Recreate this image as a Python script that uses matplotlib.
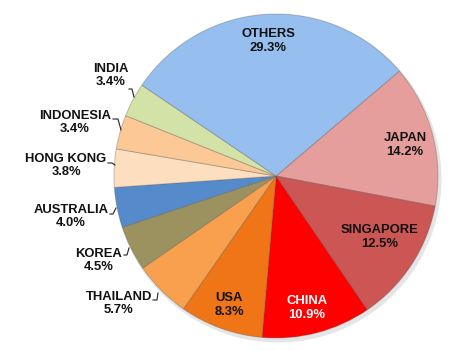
import matplotlib
matplotlib.use("Agg")
import matplotlib.pyplot as plt
import numpy as np

# ---- data ----
countries = ["JAPAN", "SINGAPORE", "CHINA", "USA", "THAILAND", "KOREA",
             "AUSTRALIA", "HONG KONG", "INDONESIA", "INDIA", "OTHERS"]
shares = [14.2, 12.5, 10.9, 8.3, 5.7, 4.5, 4.0, 3.8, 3.4, 3.4, 29.3]

# ---- style ----
colors = ["#E59E9C", "#CB5654", "#FE0000", "#F07516", "#F9A04E", "#9C925F",
          "#558ACB", "#FDDFBF", "#FCC996", "#D3E3A7", "#96BEEE"]
text_colors = ["#111111"] * len(countries)
text_colors[2] = "white"

W, H = 471, 350
cx, cy, R = 276, 350 - 176, 162
START = 40.4

# label centers in pixel coordinates (x, y from top)
label_pos = {
    "JAPAN": (405, 145), "SINGAPORE": (380, 237), "CHINA": (307, 308),
    "USA": (229, 305), "THAILAND": (119, 303.5), "KOREA": (99, 260.5),
    "AUSTRALIA": (71, 216.5), "HONG KONG": (66, 165.5), "INDONESIA": (75, 122.5),
    "INDIA": (111, 75.5), "OTHERS": (268, 41),
}
# leader lines: (hook start x, hook y, hook end x, edge point)  pixel coords
leaders = {
    "INDIA": (129, 89, 132, (134, 97)),
    "INDONESIA": (113, 119, 118, (121, 130)),
    "HONG KONG": (108, 163, 112, (115, 165)),
    "AUSTRALIA": (110, 214, 113, (116, 208)),
    "KOREA": (124, 255, 127, (129, 248)),
    "THAILAND": (153, 300, 157, (158, 293)),
}

plt.rcParams['font.family'] = ['Liberation Sans', 'DejaVu Sans']
fig = plt.figure(figsize=(W / 100, H / 100), dpi=100)
ax = fig.add_axes([0, 0, 1, 1])

# soft shadow
shadow = plt.Circle((cx + 2, cy - 3), R + 1.5, color="#000000", alpha=0.10, lw=0)
ax.add_patch(shadow)

wedges, _ = ax.pie(shares, startangle=START, counterclock=False,
                   center=(cx, cy), radius=R, colors=colors,
                   wedgeprops=dict(edgecolor=(0.35, 0.35, 0.35, 0.35), linewidth=0.7))

for name, val, tc in zip(countries, shares, text_colors):
    x, y = label_pos[name]
    ax.text(x, H - y, f"{name}\n{val:.1f}%", ha="center", va="center",
            fontsize=9.4, fontweight="bold", color=tc, linespacing=1.15)

for name, (x0, y0, x1, (x2, y2)) in leaders.items():
    ax.plot([x0, x1, x2], [H - y0, H - y0, H - y2], color="#222222", lw=0.8,
            solid_joinstyle="miter")

ax.set_xlim(0, W)
ax.set_ylim(0, H)
ax.set_aspect("equal")
ax.axis("off")
fig.savefig("out.png", dpi=100)
